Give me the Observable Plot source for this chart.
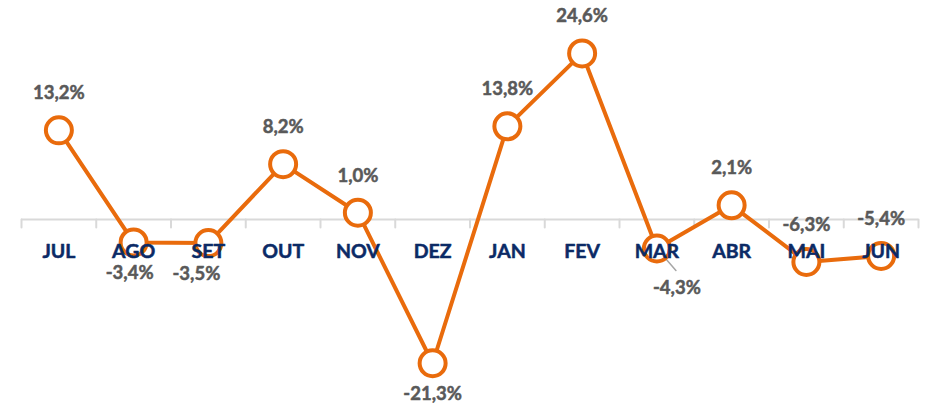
<!DOCTYPE html>
<html>
<head>
<meta charset="utf-8">
<script src="https://cdn.jsdelivr.net/npm/d3@7"></script>
<script src="https://cdn.jsdelivr.net/npm/@observablehq/plot@0.6"></script>
<style>
  html, body { margin: 0; padding: 0; background: #fff; }
  #chart svg { display: block; }
</style>
</head>
<body>
<div id="chart"></div>
<script>
const months = ["JUL","AGO","SET","OUT","NOV","DEZ","JAN","FEV","MAR","ABR","MAI","JUN"];
const values = [13.2, -3.4, -3.5, 8.2, 1.0, -21.3, 13.8, 24.6, -4.3, 2.1, -6.3, -5.4];
const valueLabels = ["13,2%","-3,4%","-3,5%","8,2%","1,0%","-21,3%","13,8%","24,6%","-4,3%","2,1%","-6,3%","-5,4%"];

const data = months.map((m, i) => ({m, v: values[i], label: valueLabels[i]}));

// label placement (Excel data-label positions)
const below = new Set(["AGO","SET","DEZ"]);
const labelDx = {AGO: -4, SET: -12, MAR: 20};

const above = data.filter(d => !below.has(d.m) && d.m !== "MAR");
const belowData = data.filter(d => below.has(d.m));
const marData = data.filter(d => d.m === "MAR");

const BW = (935 - 21 - 17) / 12;
const lineShape = {draw(ctx, l) { ctx.moveTo(0, 0); ctx.lineTo(0, -l); }};

const orange = "#e96b0c";
const font = "Lato, 'Open Sans', sans-serif";
const valStyle = {fill: "#595959", stroke: "#595959", strokeWidth: 0.5, fontWeight: "bold", fontSize: 18.5};

const chart = Plot.plot({
  width: 935,
  height: 404,
  marginLeft: 21,
  marginRight: 17,
  marginTop: 0,
  marginBottom: 0,
  style: {fontFamily: font, background: "#fff"},
  x: {type: "band", domain: months, padding: 0, round: false, axis: null},
  y: {domain: [-27.41, 32.44], axis: null},
  marks: [
    Plot.ruleY([0], {stroke: "#d9d9d9", strokeWidth: 2}),
    Plot.vector(months, {x: d => d, y: 0, length: 8, rotate: 180, anchor: "start", shape: lineShape, dx: -BW / 2, stroke: "#d9d9d9", strokeWidth: 2}),
    Plot.vector(months.slice(-1), {x: d => d, y: 0, length: 8, rotate: 180, anchor: "start", shape: lineShape, dx: BW / 2, stroke: "#d9d9d9", strokeWidth: 2}),
    Plot.vector(marData, {x: "m", y: "v", length: 29, rotate: 139, anchor: "start", shape: lineShape, stroke: "#a6a6a6", strokeWidth: 1.5}),
    Plot.line(data, {x: "m", y: "v", stroke: orange, strokeWidth: 4, curve: "linear"}),
    Plot.dot(data, {x: "m", y: "v", r: 13, fill: "#fff", stroke: orange, strokeWidth: 4}),
    Plot.text(months, {x: d => d, y: 0, dy: 32, text: d => d, fill: "#0b2a66", stroke: "#0b2a66", strokeWidth: 0.5, fontWeight: "bold", fontSize: 19.5}),
    Plot.text(above, {x: "m", y: "v", dy: -37, text: "label", ...valStyle}),
    ...belowData.map(d => Plot.text([d], {x: "m", y: "v", dy: 31, dx: labelDx[d.m] || 0, text: "label", ...valStyle})),
    Plot.text(marData, {x: "m", y: "v", dy: 40, dx: labelDx.MAR, text: "label", ...valStyle})
  ]
});

document.getElementById("chart").appendChild(chart);
</script>
</body>
</html>
